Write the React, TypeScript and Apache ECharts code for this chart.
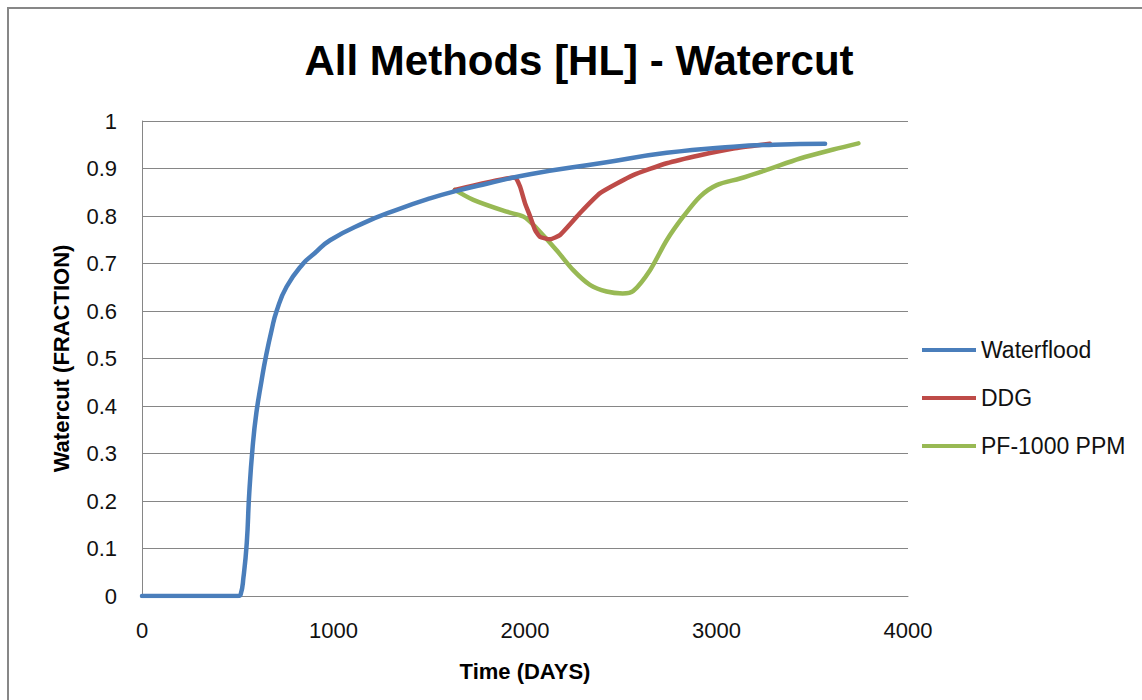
import React, { useEffect, useRef } from "react";
import * as echarts from "echarts";

const titleText = "All Methods [HL] - Watercut";
const xAxisName = "Time (DAYS)";
const yAxisName = "Watercut (FRACTION)";
const seriesNames = ["Waterflood", "DDG", "PF-1000 PPM"];
const seriesColors = ["#4A7EBB", "#BE4B48", "#98B954"];

const waterflood: [number, number][] = [
  [0, 0], [500, 0], [515, 0.003], [530, 0.04], [547, 0.111], [560, 0.216],
  [578, 0.315], [597, 0.385], [625, 0.455], [645, 0.5], [677, 0.56],
  [703, 0.6], [755, 0.651], [842, 0.7], [900, 0.721], [982, 0.749], [1156, 0.785],
  [1330, 0.813], [1504, 0.837], [1643, 0.853], [1800, 0.868], [2026, 0.888],
  [2392, 0.911], [2740, 0.933], [3088, 0.946], [3300, 0.95], [3567, 0.952],
];

const ddg: [number, number][] = [
  [1634, 0.855], [1948, 0.881], [1974, 0.862], [2000, 0.827], [2026, 0.8],
  [2052, 0.771], [2078, 0.756], [2131, 0.751], [2183, 0.76], [2287, 0.806],
  [2392, 0.848], [2565, 0.886], [2740, 0.911], [2914, 0.928], [3088, 0.942],
  [3279, 0.952],
];

const pf1000: [number, number][] = [
  [1634, 0.855], [1730, 0.834], [1904, 0.809], [1991, 0.799], [2026, 0.788],
  [2078, 0.767], [2165, 0.728], [2252, 0.686], [2339, 0.655], [2426, 0.641],
  [2510, 0.637], [2565, 0.642], [2653, 0.686], [2740, 0.749], [2827, 0.799],
  [2914, 0.841], [3001, 0.865], [3123, 0.879], [3262, 0.897], [3436, 0.921],
  [3610, 0.94], [3741, 0.953],
];

const FONT = "'Liberation Sans', Arial, sans-serif";

export default function App() {
  const ref = useRef<HTMLDivElement>(null);
  useEffect(() => {
    document.body.style.margin = "0";
    if (!ref.current) return;
    const chart = echarts.init(ref.current, null, { renderer: "svg" });
    const dataSets = [waterflood, ddg, pf1000];
    chart.setOption({
      animation: false,
      backgroundColor: "#fff",
      textStyle: { fontFamily: FONT },
      graphic: [
        {
          type: "rect",
          shape: { x: 8, y: 8, width: 1200, height: 800 },
          style: { fill: "none", stroke: "#878787", lineWidth: 2 },
          silent: true,
        },
        {
          type: "text",
          x: 579,
          y: 60,
          style: {
            text: titleText,
            fontSize: 42,
            fontWeight: "bold",
            fontFamily: FONT,
            fill: "#000",
            textAlign: "center",
            textVerticalAlign: "middle",
          },
        },
      ],
      grid: { left: 142, right: 234, top: 121, bottom: 104, containLabel: false },
      legend: {
        orient: "vertical",
        left: 917,
        top: 333,
        itemWidth: 54,
        itemHeight: 4,
        itemGap: 24,
        icon: "rect",
        data: seriesNames,
        textStyle: { fontSize: 23, color: "#111", fontFamily: FONT, lineHeight: 24, padding: [0, 0, 0, 0] },
      },
      xAxis: {
        type: "value",
        min: 0,
        max: 4000,
        interval: 1000,
        name: xAxisName,
        nameLocation: "middle",
        nameGap: 64,
        nameTextStyle: { fontSize: 22, fontWeight: "bold", color: "#000", fontFamily: FONT },
        axisLine: { show: true, lineStyle: { color: "#868686", width: 1 } },
        axisTick: { show: false },
        splitLine: { show: false },
        axisLabel: {
          fontSize: 22,
          color: "#111",
          margin: 23,
          fontFamily: FONT,
          formatter: (v: number) => String(v),
        },
      },
      yAxis: {
        type: "value",
        min: 0,
        max: 1,
        interval: 0.1,
        name: yAxisName,
        nameLocation: "middle",
        nameRotate: 90,
        nameGap: 70,
        nameTextStyle: { fontSize: 22, fontWeight: "bold", color: "#000", fontFamily: FONT },
        axisLine: { show: true, lineStyle: { color: "#868686", width: 1 } },
        axisTick: { show: false },
        splitLine: { show: true, lineStyle: { color: "#868686", width: 1 } },
        axisLabel: {
          fontSize: 22,
          color: "#111",
          margin: 25,
          fontFamily: FONT,
          formatter: (v: number) => String(Number(v.toFixed(1))),
        },
      },
      series: seriesNames.map((name, i) => ({
        name,
        type: "line",
        data: dataSets[i],
        smooth: i === 1 ? 0.15 : i === 0 ? 0.5 : 0.3,
        showSymbol: false,
        symbol: "none",
        lineStyle: { width: 4.5, color: seriesColors[i], cap: "round", join: "round" },
        itemStyle: { color: seriesColors[i] },
        z: 3 - i,
      })),
    });
    return () => chart.dispose();
  }, []);
  return <div ref={ref} style={{ width: 1142, height: 700 }} />;
}
